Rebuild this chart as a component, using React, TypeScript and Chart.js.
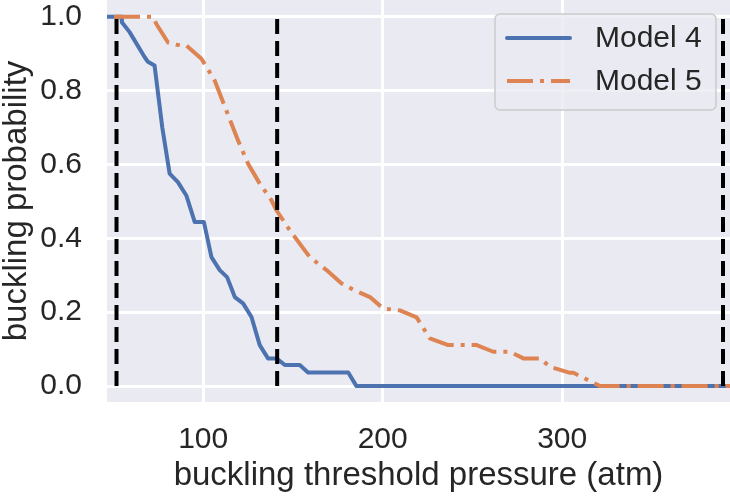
import React, { useEffect, useRef } from "react";
import { Chart, registerables } from "chart.js";

Chart.register(...registerables);

// ---- data ----
const seriesNames = ["Model 4", "Model 5"];

const model4X = [46.4, 54.4, 54.7, 59.0, 67.4, 69.2, 72.9, 77.2, 81.3, 85.9, 90.6, 95.3, 100.4, 104.6, 109.2, 113.3, 117.6, 122.2, 126.9, 131.5, 136.1, 140.8, 145.5, 153.8, 158.4, 180.8, 185.4, 393.5];
const model4Y = [1.0, 1.0, 0.985, 0.958, 0.89, 0.878, 0.868, 0.7, 0.575, 0.552, 0.516, 0.444, 0.444, 0.349, 0.314, 0.295, 0.241, 0.224, 0.187, 0.111, 0.075, 0.075, 0.057, 0.057, 0.037, 0.037, 0.0, 0.0];

const model5X = [46.4, 72.0, 73.9, 80.4, 85.1, 90.6, 99.0, 100.8, 106.4, 112.9, 119.4, 125.0, 131.5, 138.0, 140.8, 148.2, 159.4, 168.7, 177.1, 183.5, 192.9, 200.3, 209.6, 218.9, 226.3, 236.5, 252.4, 261.6, 270.9, 278.4, 287.7, 293.2, 304.4, 306.3, 321.1, 393.5];
const model5Y = [1.0, 1.0, 0.98, 0.93, 0.924, 0.922, 0.886, 0.872, 0.827, 0.746, 0.665, 0.602, 0.548, 0.503, 0.476, 0.422, 0.349, 0.314, 0.278, 0.261, 0.241, 0.21, 0.205, 0.186, 0.129, 0.111, 0.111, 0.093, 0.093, 0.075, 0.075, 0.052, 0.036, 0.036, 0.0, 0.0];

const thresholdX = [51.7, 141.2, 389.6];

const xTicks = [100, 200, 300];
const yTicks = [0, 0.2, 0.4, 0.6, 0.8, 1.0];

const X_MIN = 46.4;
const X_MAX = 393.5;
const Y_MIN = -0.043;
const Y_MAX = 1.045;

const BLUE = "#4C72B0";
const ORANGE = "#DD8452";
const TEXT = "#262626";
const FONT = '"Liberation Sans", Arial, Helvetica, sans-serif';
const ORANGE_DASH = [26, 7, 4, 7];

const bgPlugin = {
  id: "bgPlugin",
  beforeDraw(chart: any) {
    const { ctx, chartArea, width, height } = chart;
    ctx.save();
    ctx.fillStyle = "#ffffff";
    ctx.fillRect(0, 0, width, height);
    ctx.fillStyle = "#EAEAF2";
    ctx.fillRect(chartArea.left, chartArea.top, chartArea.right - chartArea.left, chartArea.bottom - chartArea.top);
    ctx.restore();
  },
};

const legendPlugin = {
  id: "insideLegend",
  afterDraw(chart: any) {
    const { ctx } = chart;
    const bx = 495, by = 14, bw = 221, bh = 96, r = 5;
    ctx.save();
    ctx.beginPath();
    ctx.moveTo(bx + r, by);
    ctx.lineTo(bx + bw - r, by);
    ctx.arcTo(bx + bw, by, bx + bw, by + r, r);
    ctx.lineTo(bx + bw, by + bh - r);
    ctx.arcTo(bx + bw, by + bh, bx + bw - r, by + bh, r);
    ctx.lineTo(bx + r, by + bh);
    ctx.arcTo(bx, by + bh, bx, by + bh - r, r);
    ctx.lineTo(bx, by + r);
    ctx.arcTo(bx, by, bx + r, by, r);
    ctx.closePath();
    ctx.fillStyle = "rgba(234,234,242,0.8)";
    ctx.fill();
    ctx.strokeStyle = "#cccccc";
    ctx.lineWidth = 1.5;
    ctx.stroke();

    const rows = [
      { y: 38, color: BLUE, dash: [] as number[] },
      { y: 81, color: ORANGE, dash: ORANGE_DASH },
    ];
    rows.forEach((row, i) => {
      ctx.beginPath();
      ctx.setLineDash(row.dash);
      ctx.lineDashOffset = 0;
      ctx.strokeStyle = row.color;
      ctx.lineWidth = 4;
      ctx.lineCap = row.dash.length ? "butt" : "round";
      ctx.moveTo(507, row.y);
      ctx.lineTo(570, row.y);
      ctx.stroke();
      ctx.setLineDash([]);
      ctx.fillStyle = TEXT;
      ctx.font = `30px ${FONT}`;
      ctx.textAlign = "left";
      ctx.textBaseline = "middle";
      ctx.fillText(seriesNames[i], 595, row.y + 1);
    });
    ctx.restore();
  },
};

export default function App() {
  const canvasRef = useRef<HTMLCanvasElement | null>(null);

  useEffect(() => {
    document.body.style.margin = "0";
    const canvas = canvasRef.current;
    if (!canvas) return;

    const toPts = (xs: number[], ys: number[]) => xs.map((x, i) => ({ x, y: ys[i] }));

    const thresholdSets = thresholdX.map((x) => ({
      label: "threshold " + x,
      data: [{ x, y: 0 }, { x, y: 1 }],
      borderColor: "#000000",
      borderWidth: 4,
      borderDash: [15, 7],
      borderCapStyle: "butt",
      pointRadius: 0,
      showLine: true,
      fill: false,
      order: -1,
    }));

    const chart = new Chart(canvas, {
      type: "line",
      data: {
        datasets: [
          {
            label: seriesNames[0],
            data: toPts(model4X, model4Y),
            borderColor: BLUE,
            borderWidth: 4,
            borderJoinStyle: "round",
            borderCapStyle: "round",
            pointRadius: 0,
            tension: 0,
            fill: false,
            order: 1,
          },
          {
            label: seriesNames[1],
            data: toPts(model5X, model5Y),
            borderColor: ORANGE,
            borderWidth: 4,
            borderDash: ORANGE_DASH,
            borderDashOffset: 37,
            borderJoinStyle: "round",
            borderCapStyle: "butt",
            pointRadius: 0,
            tension: 0,
            fill: false,
            order: 0,
          },
          ...thresholdSets,
        ] as any,
      },
      options: {
        animation: false,
        responsive: false,
        maintainAspectRatio: false,
        events: [],
        layout: { padding: 0, autoPadding: false } as any,
        plugins: {
          legend: { display: false },
          tooltip: { enabled: false },
        },
        scales: {
          x: {
            type: "linear",
            min: X_MIN,
            max: X_MAX,
            afterBuildTicks: (s: any) => {
              s.ticks = xTicks.map((v) => ({ value: v }));
            },
            afterFit: (s: any) => {
              s.height = 94;
              s.paddingLeft = 0;
              s.paddingRight = 0;
            },
            ticks: {
              font: { family: FONT, size: 30 },
              color: TEXT,
              padding: 20,
              maxRotation: 0,
              callback: (v: any) => String(v),
            },
            grid: { color: "#ffffff", lineWidth: 3, drawTicks: false },
            border: { display: false },
            title: {
              display: true,
              text: "buckling threshold pressure (atm)",
              font: { family: FONT, size: 33 },
              color: TEXT,
              padding: 0,
            },
          },
          y: {
            type: "linear",
            min: Y_MIN,
            max: Y_MAX,
            afterBuildTicks: (s: any) => {
              s.ticks = yTicks.map((v) => ({ value: v }));
            },
            afterFit: (s: any) => {
              s.width = 107;
              s.paddingTop = 0;
              s.paddingBottom = 0;
            },
            ticks: {
              font: { family: FONT, size: 30 },
              color: TEXT,
              padding: 25,
              callback: (v: any) => Number(v).toFixed(1),
            },
            grid: { color: "#ffffff", lineWidth: 3, drawTicks: false },
            border: { display: false },
            title: {
              display: true,
              text: "buckling probability",
              font: { family: FONT, size: 33, lineHeight: 1 },
              color: TEXT,
              padding: 0,
            },
          },
        },
      } as any,
      plugins: [bgPlugin, legendPlugin],
    });

    return () => chart.destroy();
  }, []);

  return (
    <div style={{ position: "absolute", left: 0, top: 0, width: 730, height: 496 }}>
      <canvas ref={canvasRef} width={730} height={496} style={{ display: "block", width: 730, height: 496 }} />
    </div>
  );
}
